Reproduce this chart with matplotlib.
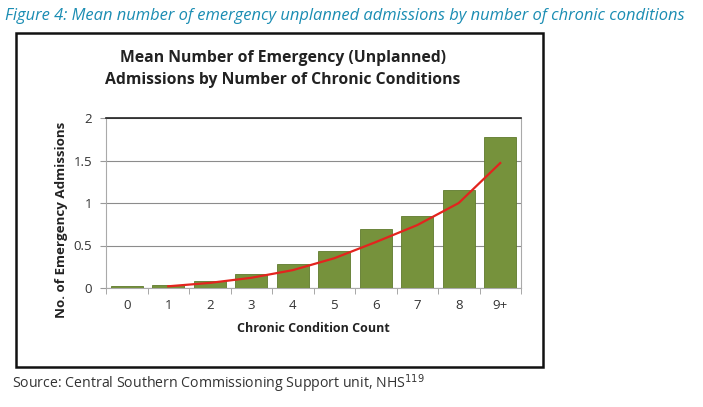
import matplotlib.pyplot as plt
from matplotlib.patches import Rectangle

# data
categories = ['0', '1', '2', '3', '4', '5', '6', '7', '8', '9+']
mean_admissions = [0.02, 0.035, 0.08, 0.16, 0.28, 0.44, 0.69, 0.85, 1.15, 1.78]
trend_x = [1, 2, 3, 4, 5, 6, 7, 8, 9]
trend_y = [0.02, 0.06, 0.12, 0.21, 0.35, 0.54, 0.74, 1.0, 1.47]
y_ticks = [0, 0.5, 1, 1.5, 2]
y_ticklabels = ['0', '0.5', '1', '1.5', '2']

plt.rcParams['font.family'] = ['Open Sans', 'DejaVu Sans']

fig = plt.figure(figsize=(7.03, 4.07), dpi=100)

# outer chart frame
fig.patches.append(Rectangle((16 / 703, 1 - 367 / 407), 527 / 703, 334 / 407,
                             transform=fig.transFigure, fill=False,
                             edgecolor='#111111', linewidth=1.8))

ax = fig.add_axes([106 / 703, 1 - 288 / 407, 415 / 703, 170 / 407])
x = range(len(categories))
ax.bar(x, mean_admissions, width=0.76, color='#76923C', edgecolor='#5f7a2c',
       linewidth=0.6, zorder=3)
ax.plot(trend_x, trend_y, color='#E3241E', linewidth=1.6, zorder=4)

ax.set_xlim(-0.5, len(categories) - 0.5)
ax.set_ylim(0, 2)
ax.set_yticks(y_ticks)
ax.set_yticklabels(y_ticklabels, fontsize=9.5, color='#333333')
ax.set_xticks(list(x))
ax.set_xticklabels(categories, fontsize=9.5, color='#333333')
ax.tick_params(axis='x', length=0, pad=8)
ax.tick_params(axis='y', length=4, color='#999999', pad=6)
ax.set_xticks([i + 0.5 for i in range(-1, len(categories))], minor=True)
ax.tick_params(axis='x', which='minor', length=4, color='#999999')
ax.grid(axis='y', color='#8c8c8c', linewidth=0.8, zorder=0)
for s in ['left', 'bottom', 'right']:
    ax.spines[s].set_color('#aaaaaa')
ax.spines['top'].set_color('#222222')
ax.spines['top'].set_linewidth(1.2)

ax.set_ylabel('No. of Emergency Admissions', fontsize=9.6, fontweight='bold',
              color='#222222')
ax.yaxis.set_label_coords(-0.092, 0.4)
ax.set_xlabel('Chronic Condition Count', fontsize=9, fontweight='bold',
              color='#222222', labelpad=7)

fig.text(283 / 703, 1 - 69 / 407,
         'Mean Number of Emergency (Unplanned)\nAdmissions by Number of Chronic Conditions',
         ha='center', va='center', fontsize=11.3, fontweight='bold',
         color='#222222', linespacing=1.45)

fig.text(5 / 703, 1 - 16 / 407,
         'Figure 4: Mean number of emergency unplanned admissions by number of chronic conditions',
         ha='left', va='center', fontsize=11.9, style='italic', color='#1b8db3')

fig.text(12 / 703, 1 - 384 / 407,
         r'Source: Central Southern Commissioning Support unit, NHS$^{119}$',
         ha='left', va='center', fontsize=10.2, color='#333333')

plt.savefig('out.png', dpi=100)
